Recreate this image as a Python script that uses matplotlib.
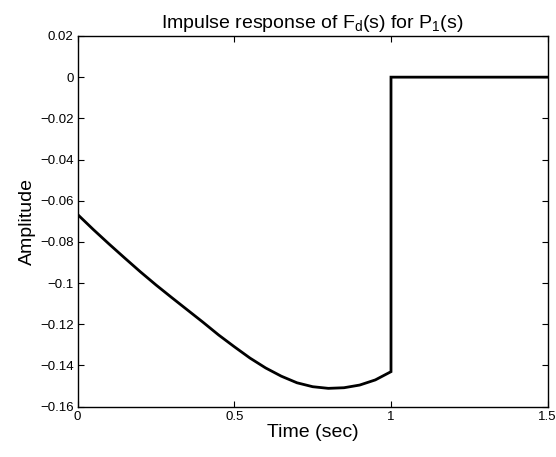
import numpy as np
import matplotlib
matplotlib.use('Agg')
import matplotlib.pyplot as plt

# values
t_decay = [0.0, 0.05, 0.1, 0.15, 0.2, 0.25, 0.3, 0.35, 0.4, 0.45, 0.5, 0.55,
           0.6, 0.65, 0.7, 0.75, 0.8, 0.85, 0.9, 0.95, 1.0]
y_decay = [-0.0667, -0.0740, -0.0810, -0.0878, -0.0945, -0.1009, -0.1070,
           -0.1130, -0.1190, -0.1252, -0.1309, -0.1364, -0.1412, -0.1452,
           -0.1484, -0.1503, -0.1511, -0.1508, -0.1495, -0.1470, -0.1430]
t_after = [1.0, 1.5]
y_after = [0.0, 0.0]

yticks = [0.02, 0, -0.02, -0.04, -0.06, -0.08, -0.1, -0.12, -0.14, -0.16]
ytick_labels = ['0.02', '0', '\u22120.02', '\u22120.04', '\u22120.06', '\u22120.08',
                '\u22120.1', '\u22120.12', '\u22120.14', '\u22120.16']
xticks = [0, 0.5, 1, 1.5]
xtick_labels = ['0', '0.5', '1', '1.5']

plt.rcParams['font.family'] = ['Liberation Sans', 'DejaVu Sans']
plt.rcParams['mathtext.fontset'] = 'custom'
plt.rcParams['mathtext.rm'] = 'Liberation Sans'

fig = plt.figure(figsize=(5.56, 4.57), dpi=100)
ax = fig.add_axes([0.1397, 0.1101, 0.8453, 0.8112])

t = np.array(t_decay + t_after)
y = np.array(y_decay + y_after)
ax.plot(t, y, color='black', lw=2.0, solid_joinstyle='miter')

ax.set_xlim(0, 1.5)
ax.set_ylim(-0.16, 0.02)
ax.set_xticks(xticks)
ax.set_xticklabels(xtick_labels)
ax.set_yticks(yticks)
ax.set_yticklabels(ytick_labels)
ax.tick_params(direction='in', length=4, width=0.8, labelsize=9.5,
               top=True, right=True, pad=3)
for sp in ax.spines.values():
    sp.set_linewidth(1.0)

ax.set_xlabel('Time (sec)', fontsize=14, labelpad=1)
ax.set_ylabel('Amplitude', fontsize=14, labelpad=3)
ax.set_title('Impulse response of F$_\\mathregular{d}$(s) for P$_\\mathregular{1}$(s)',
             fontsize=14, pad=6)

fig.savefig('out.png', dpi=100)
